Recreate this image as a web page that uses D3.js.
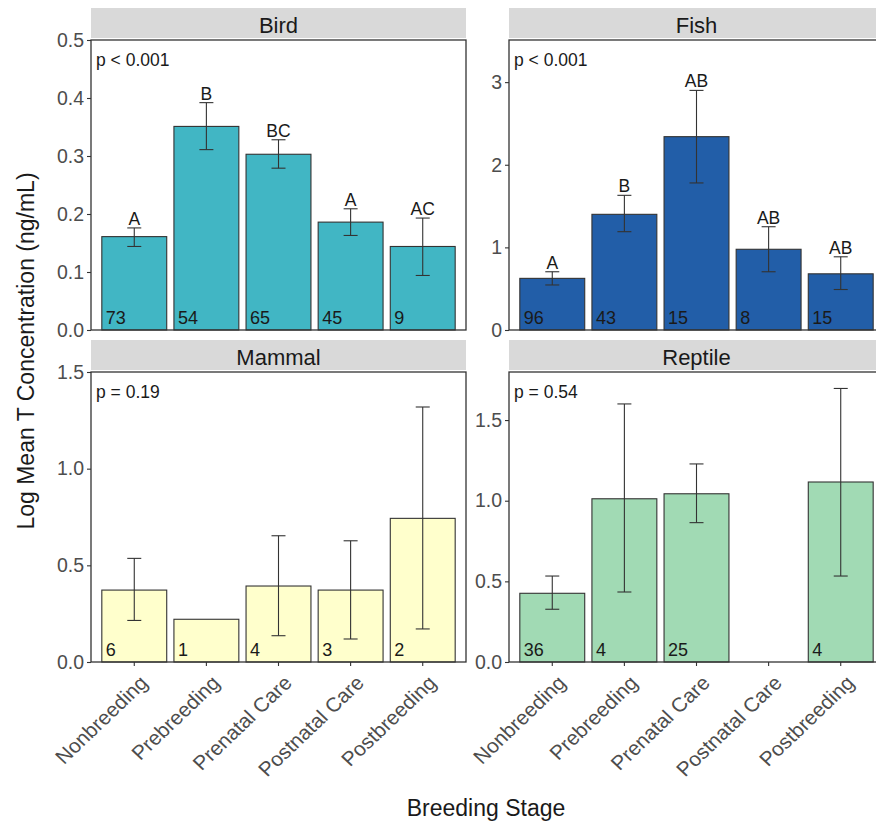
<!DOCTYPE html>
<html><head><meta charset="utf-8">
<script src="https://cdn.jsdelivr.net/npm/d3@7"></script>
<style>body{margin:0;background:#fff}svg{display:block;font-family:Arial,"Liberation Sans",sans-serif}</style>
</head><body><svg id="c" width="876" height="825"></svg>
<script>
const stages = ["Nonbreeding","Prebreeding","Prenatal Care","Postnatal Care","Postbreeding"];

const birdMean = [0.161, 0.351, 0.303, 0.186, 0.144];
const birdLo   = [0.144, 0.311, 0.279, 0.163, 0.094];
const birdHi   = [0.176, 0.392, 0.328, 0.209, 0.193];
const birdN    = ["73","54","65","45","9"];
const birdLetters = ["A","B","BC","A","AC"];

const fishMean = [0.625, 1.40, 2.34, 0.977, 0.68];
const fishLo   = [0.545, 1.19, 1.78, 0.705, 0.49];
const fishHi   = [0.705, 1.63, 2.90, 1.25, 0.886];
const fishN    = ["96","43","15","8","15"];
const fishLetters = ["A","B","AB","AB","AB"];

const mammalMean = [0.372, 0.221, 0.393, 0.372, 0.743];
const mammalLo   = [0.215, null, 0.136, 0.119, 0.171];
const mammalHi   = [0.536, null, 0.653, 0.627, 1.319];
const mammalN    = ["6","1","4","3","2"];

const reptileMean = [0.426, 1.012, 1.043, null, 1.116];
const reptileLo   = [0.327, 0.434, 0.864, null, 0.533];
const reptileHi   = [0.533, 1.600, 1.228, null, 1.696];
const reptileN    = ["36","4","25","","4"];

const birdTicks = [0,0.1,0.2,0.3,0.4,0.5];
const fishTicks = [0,1,2,3];
const mammalTicks = [0,0.5,1.0,1.5];
const reptileTicks = [0,0.5,1.0,1.5];

const panels = [
  {name:"Bird", mean:birdMean, lo:birdLo, hi:birdHi, n:birdN, letters:birdLetters, p:"p < 0.001", color:"#41b6c4", max:0.5, ticks:birdTicks, fmt:d3.format(".1f"), x:91, y:40, bottom:false},
  {name:"Fish", mean:fishMean, lo:fishLo, hi:fishHi, n:fishN, letters:fishLetters, p:"p < 0.001", color:"#225ea8", max:3.51, ticks:fishTicks, fmt:d3.format("d"), x:509, y:40, bottom:false},
  {name:"Mammal", mean:mammalMean, lo:mammalLo, hi:mammalHi, n:mammalN, letters:null, p:"p = 0.19", color:"#ffffcc", max:1.5, ticks:mammalTicks, fmt:d3.format(".1f"), x:91, y:372, bottom:true},
  {name:"Reptile", mean:reptileMean, lo:reptileLo, hi:reptileHi, n:reptileN, letters:null, p:"p = 0.54", color:"#a1dab4", max:1.798, ticks:reptileTicks, fmt:d3.format(".1f"), x:509, y:372, bottom:true}
];

const W = 375, H = 290, stripH = 30, stripGap = 2;
const svg = d3.select("#c");

panels.forEach(p => {
  const g = svg.append("g");
  const x = d3.scaleBand().domain(stages).range([p.x, p.x + W]).paddingInner(0.1).paddingOuter(0.15);
  const y = d3.scaleLinear().domain([0, p.max]).range([p.y + H, p.y]);

  // strip
  g.append("rect").attr("x", p.x).attr("y", p.y - stripGap - stripH).attr("width", W).attr("height", stripH).attr("fill", "#d9d9d9");
  g.append("text").attr("x", p.x + W/2).attr("y", p.y - stripGap - 5)
    .attr("text-anchor", "middle").attr("font-size", 22).attr("fill", "#1a1a1a").text(p.name);

  // panel background
  g.append("rect").attr("x", p.x).attr("y", p.y).attr("width", W).attr("height", H).attr("fill", "#fff");

  const idx = d3.range(stages.length);
  // bars
  g.selectAll(".bar").data(idx.filter(i => p.mean[i] != null)).join("rect")
    .attr("x", i => x(stages[i])).attr("width", x.bandwidth())
    .attr("y", i => y(p.mean[i])).attr("height", i => y(0) - y(p.mean[i]))
    .attr("fill", p.color).attr("stroke", "#333").attr("stroke-width", 1.1);

  // error bars
  const eb = idx.filter(i => p.lo[i] != null);
  const cx = i => x(stages[i]) + x.bandwidth()/2;
  const capW = 7;
  g.selectAll(".ev").data(eb).join("line")
    .attr("x1", cx).attr("x2", cx).attr("y1", i => y(p.lo[i])).attr("y2", i => y(p.hi[i]))
    .attr("stroke", "#333").attr("stroke-width", 1.1);
  g.selectAll(".eh").data(eb).join("line")
    .attr("x1", i => cx(i) - capW).attr("x2", i => cx(i) + capW).attr("y1", i => y(p.hi[i])).attr("y2", i => y(p.hi[i]))
    .attr("stroke", "#333").attr("stroke-width", 1.1);
  g.selectAll(".el").data(eb).join("line")
    .attr("x1", i => cx(i) - capW).attr("x2", i => cx(i) + capW).attr("y1", i => y(p.lo[i])).attr("y2", i => y(p.lo[i]))
    .attr("stroke", "#333").attr("stroke-width", 1.1);

  // letters
  if (p.letters) {
    g.selectAll(".let").data(idx).join("text")
      .attr("x", cx).attr("y", i => y(p.hi[i]) - 3)
      .attr("text-anchor", "middle").attr("font-size", 17.5).attr("fill", "#1a1a1a").text(i => p.letters[i]);
  }

  // n labels
  g.selectAll(".n").data(idx).join("text")
    .attr("x", i => x(stages[i]) + 4).attr("y", p.y + H - 6)
    .attr("font-size", 18).attr("fill", "#1a1a1a").text(i => p.n[i]);

  // p-value
  g.append("text").attr("x", p.x + 5).attr("y", p.y + 26).attr("font-size", 17.5).attr("fill", "#1a1a1a").text(p.p);

  // border
  g.append("rect").attr("x", p.x).attr("y", p.y).attr("width", W).attr("height", H)
    .attr("fill", "none").attr("stroke", "#333").attr("stroke-width", 1.3);

  // y axis
  const ya = g.append("g").attr("transform", `translate(${p.x},0)`)
    .call(d3.axisLeft(y).tickValues(p.ticks).tickFormat(p.fmt).tickSize(4).tickPadding(3));
  ya.select(".domain").remove();
  ya.selectAll(".tick line").attr("stroke", "#333").attr("stroke-width", 1.1);
  ya.selectAll(".tick text").attr("font-size", 19.5).attr("fill", "#4d4d4d").attr("font-family", null);

  // x axis (bottom row only)
  if (p.bottom) {
    const xa = g.append("g").attr("transform", `translate(0,${p.y + H})`)
      .call(d3.axisBottom(x).tickSize(4).tickSizeOuter(0));
    xa.select(".domain").remove();
    xa.selectAll(".tick line").attr("stroke", "#333").attr("stroke-width", 1.1);
    xa.selectAll(".tick text")
      .attr("font-size", 20).attr("fill", "#4d4d4d").attr("font-family", null)
      .attr("text-anchor", "end").attr("y", 0).attr("dy", "0.72em")
      .attr("transform", "translate(4,12) scale(1.05,1) rotate(-45)");
  }
});

// axis titles
svg.append("text").attr("transform", "translate(34,351) rotate(-90)").attr("text-anchor", "middle")
  .attr("font-size", 23).attr("fill", "#1a1a1a").text("Log Mean T Concentration (ng/mL)");
svg.append("text").attr("x", 486).attr("y", 816).attr("text-anchor", "middle")
  .attr("font-size", 23).attr("fill", "#1a1a1a").text("Breeding Stage");
</script></body></html>
